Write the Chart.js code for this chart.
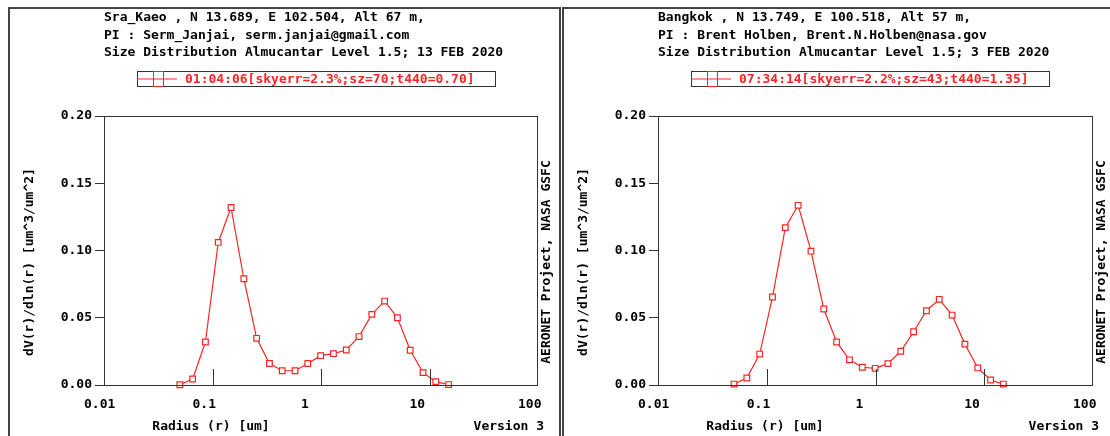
<!DOCTYPE html>
<html>
<head>
<meta charset="utf-8">
<script src="https://cdn.jsdelivr.net/npm/chart.js@4.4.1/dist/chart.umd.min.js"></script>
<style>
  body { margin: 0; background: #fff; width: 1110px; height: 436px; overflow: hidden; position: relative; }
  .panel { position: absolute; top: 7px; height: 520px; box-sizing: border-box; border: 2px solid #444; }
  canvas { position: absolute; top: 8px; }
</style>
</head>
<body>
<div class="panel" style="left:8px; width:553px;"></div>
<div class="panel" style="left:562px; width:560px;"></div>
<canvas id="sraKaeo" width="546" height="428" style="left:9px"></canvas>
<canvas id="bangkok" width="547" height="428" style="left:563px"></canvas>
<script>
// AERONET almucantar size bins, radius in um
var radius = [0.05, 0.065604, 0.086077, 0.112939, 0.148184, 0.194429, 0.255105, 0.334716,
  0.439173, 0.576227, 0.756052, 0.991996, 1.301571, 1.707757, 2.240702, 2.939966,
  3.857452, 5.06126, 6.640745, 8.713145, 11.432287, 15.0];

// dV(r)/dln(r)
var sraKaeoVals = [0.0002, 0.0045, 0.032, 0.106, 0.132, 0.079, 0.0347, 0.016, 0.0106, 0.0106,
  0.016, 0.0218, 0.0233, 0.026, 0.036, 0.0525, 0.0624, 0.050, 0.0258, 0.0092, 0.0025, 0.0003];
var bangkokVals = [0.0007, 0.0052, 0.023, 0.0654, 0.117, 0.1336, 0.0995, 0.0565, 0.032, 0.0187,
  0.0132, 0.0124, 0.0159, 0.0251, 0.0396, 0.0552, 0.0637, 0.052, 0.0304, 0.0127, 0.0037, 0.0007];

var xTicks = [0.01, 0.1, 1, 10, 100];
var yTicks = [0, 0.05, 0.10, 0.15, 0.20];
var innerTicks = [0.1, 1, 10];

var FONT = '"DejaVu Sans Mono", monospace';
var RED = '#ff2424';

/* draws the AERONET page furniture round the plot */
var decor = {
  id: 'decor',
  afterDraw: function(chart, args, opts) {
    var ctx = chart.ctx, ca = chart.chartArea, xs = chart.scales.x;
    ctx.save();
    // plot frame
    ctx.strokeStyle = '#333';
    ctx.lineWidth = 1;
    ctx.strokeRect(ca.left + 0.5, ca.top + 0.5, ca.right - ca.left - 1, ca.bottom - ca.top);
    // decade ticks inside the bottom axis
    innerTicks.forEach(function(v) {
      var px = Math.round(xs.getPixelForValue(v)) + 0.5;
      ctx.beginPath();
      ctx.moveTo(px, ca.bottom);
      ctx.lineTo(px, ca.bottom - 16);
      ctx.stroke();
    });

    ctx.font = 'bold 13px ' + FONT;
    ctx.fillStyle = '#000';
    ctx.textBaseline = 'middle';
    ctx.textAlign = 'left';
    opts.header.forEach(function(line, i) {
      ctx.fillText(line, ca.left, 10 + i * 17.5);
    });

    // legend box
    var bx = ca.left + 33, by = 63, bw = 358, bh = 15;
    ctx.strokeStyle = '#333';
    ctx.strokeRect(bx + 0.5, by + 0.5, bw, bh);
    ctx.strokeStyle = RED;
    ctx.beginPath();
    ctx.moveTo(bx, by + bh / 2 + 0.5);
    ctx.lineTo(bx + 40, by + bh / 2 + 0.5);
    ctx.stroke();
    ctx.strokeRect(bx + 16.5, by + 0.5, 10, bh);
    ctx.fillStyle = RED;
    ctx.fillText(opts.legend, bx + 48, by + bh / 2 + 1);

    // axis titles and side notes
    ctx.fillStyle = '#000';
    ctx.textAlign = 'center';
    ctx.fillText('Radius (r) [um]', ca.left + 107, 419);
    ctx.textAlign = 'right';
    ctx.fillText('Version 3', ca.right + 6, 419);

    ctx.textAlign = 'center';
    ctx.save();
    ctx.translate(21, 254);
    ctx.rotate(-Math.PI / 2);
    ctx.fillText('dV(r)/dln(r) [um^3/um^2]', 0, 0);
    ctx.restore();
    ctx.save();
    ctx.translate(ca.right + 9, 254);
    ctx.rotate(-Math.PI / 2);
    ctx.fillText('AERONET Project, NASA GSFC', 0, 0);
    ctx.restore();

    ctx.restore();
  }
};

function makeChart(id, vals, header, legend) {
  var ctx = document.getElementById(id).getContext('2d');
  return new Chart(ctx, {
    type: 'line',
    plugins: [decor],
    data: {
      datasets: [{
        label: legend,
        data: radius.map(function(r, i) { return { x: r, y: vals[i] }; }),
        borderColor: RED,
        borderWidth: 1.2,
        pointStyle: 'rect',
        pointRadius: 4,
        pointBorderWidth: 1.2,
        pointBorderColor: RED,
        pointBackgroundColor: '#fff',
        tension: 0,
        clip: false
      }]
    },
    options: {
      responsive: false,
      animation: false,
      devicePixelRatio: 1,
      layout: { padding: { top: 108, left: 0, right: 17, bottom: 0 } },
      plugins: {
        legend: { display: false },
        tooltip: { enabled: false },
        decor: { header: header, legend: legend }
      },
      scales: {
        x: {
          type: 'logarithmic',
          min: 0.01,
          max: 100,
          afterBuildTicks: function(s) { s.ticks = xTicks.map(function(v) { return { value: v }; }); },
          afterFit: function(s) { s.height = 51; s.paddingLeft = 0; s.paddingRight = 0; },
          grid: { display: false },
          border: { display: false },
          ticks: {
            align: 'start',
            labelOffset: -20,
            padding: 4,
            autoSkip: false,
            maxRotation: 0,
            color: '#000',
            font: { family: FONT, size: 13, weight: 'bold' },
            callback: function(v) { return String(v); }
          }
        },
        y: {
          min: 0,
          max: 0.2,
          afterBuildTicks: function(s) { s.ticks = yTicks.map(function(v) { return { value: v }; }); },
          afterFit: function(s) { s.width = 95; s.paddingTop = 0; s.paddingBottom = 0; },
          grid: { drawOnChartArea: false, tickLength: 9, color: '#333' },
          border: { display: false },
          ticks: {
            padding: 3,
            color: '#000',
            font: { family: FONT, size: 13, weight: 'bold' },
            callback: function(v) { return v.toFixed(2); }
          }
        }
      }
    }
  });
}

makeChart('sraKaeo', sraKaeoVals, [
  'Sra_Kaeo , N 13.689, E 102.504, Alt 67 m,',
  'PI : Serm_Janjai, serm.janjai@gmail.com',
  'Size Distribution Almucantar Level 1.5; 13 FEB 2020'
], '01:04:06[skyerr=2.3%;sz=70;t440=0.70]');

makeChart('bangkok', bangkokVals, [
  'Bangkok , N 13.749, E 100.518, Alt 57 m,',
  'PI : Brent Holben, Brent.N.Holben@nasa.gov',
  'Size Distribution Almucantar Level 1.5; 3 FEB 2020'
], '07:34:14[skyerr=2.2%;sz=43;t440=1.35]');
</script>
</body>
</html>
